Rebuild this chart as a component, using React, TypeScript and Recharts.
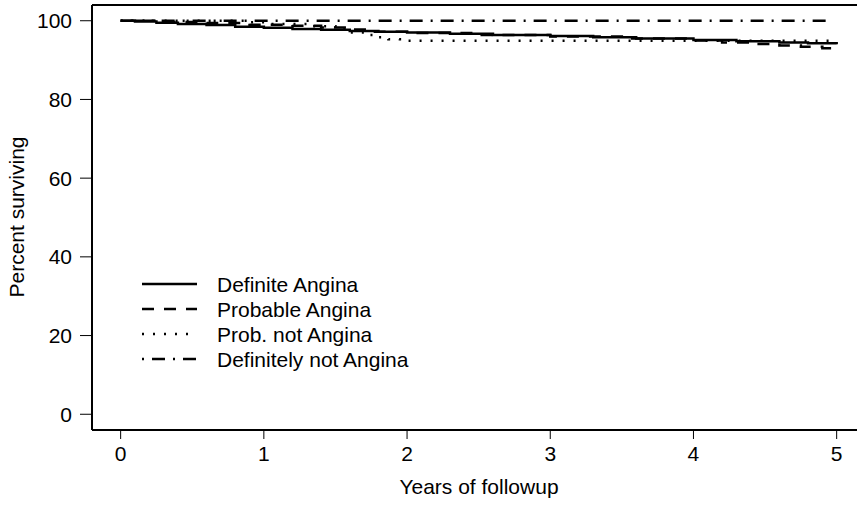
import React from 'react';
import { LineChart, Line, XAxis, YAxis, Legend, ReferenceLine } from 'recharts';

// Kaplan-Meier survival estimates by angina classification (years, percent)
const definiteT = [0, 0.1, 0.25, 0.4, 0.6, 0.8, 1.0, 1.2, 1.4, 1.6, 1.8, 2.0, 2.3, 2.6, 3.0, 3.3, 3.6, 4.0, 4.3, 4.6, 4.8, 5.0];
const definiteV = [100, 99.8, 99.5, 99.2, 98.9, 98.5, 98.2, 97.9, 97.7, 97.4, 97.2, 97.0, 96.7, 96.4, 96.1, 95.8, 95.5, 95.1, 94.8, 94.5, 94.3, 94.0];

const probableT = [0, 0.3, 0.6, 0.9, 1.2, 1.4, 1.6, 1.75, 2.0, 2.5, 3.0, 3.5, 4.0, 4.2, 4.4, 4.6, 4.75, 4.9, 5.0];
const probableV = [100, 99.7, 99.4, 99.0, 98.7, 98.3, 97.8, 97.2, 96.9, 96.4, 96.0, 95.5, 95.0, 94.5, 94.1, 93.7, 93.4, 93.0, 92.6];

const probNotT = [0, 0.9, 1.05, 1.3, 1.5, 1.6, 1.7, 1.8, 1.87, 1.95, 5.0];
const probNotV = [100, 99.6, 99.2, 98.6, 97.9, 97.0, 96.4, 95.8, 95.3, 94.9, 94.9];

const defNotT = [0, 4.95];
const defNotV = [100, 100];

const xTicks = [0, 1, 2, 3, 4, 5];
const yTicks = [0, 20, 40, 60, 80, 100];

const toPoints = (t: number[], v: number[]) => t.map((x, i) => ({ t: x, v: v[i] }));

const series = [
  { name: 'Definite Angina', data: toPoints(definiteT, definiteV), dash: undefined as string | undefined },
  { name: 'Probable Angina', data: toPoints(probableT, probableV), dash: '12 10' },
  { name: 'Prob. not Angina', data: toPoints(probNotT, probNotV), dash: '2 9' },
  { name: 'Definitely not Angina', data: toPoints(defNotT, defNotV), dash: '2 8 13 8' },
];

const FONT = "'Liberation Sans', Arial, Helvetica, sans-serif";
const FS = 21;

const XTick = (props: any) => {
  const { x, y, payload } = props;
  return (
    <text x={x} y={y} textAnchor="middle" dominantBaseline="hanging" fontFamily={FONT} fontSize={FS} fill="#000">
      {payload.value}
    </text>
  );
};

const YTick = (props: any) => {
  const { x, y, payload } = props;
  return (
    <text x={x} y={y} textAnchor="end" dominantBaseline="central" fontFamily={FONT} fontSize={FS} fill="#000">
      {payload.value}
    </text>
  );
};

const xTitle = () => (
  <text x={479} y={486} textAnchor="middle" dominantBaseline="central" fontFamily={FONT} fontSize={FS} fill="#000">
    Years of followup
  </text>
);

const yTitle = () => (
  <text
    transform="translate(16, 217) rotate(-90)"
    textAnchor="middle"
    dominantBaseline="central"
    fontFamily={FONT}
    fontSize={FS}
    fill="#000"
  >
    Percent surviving
  </text>
);

const renderLegend = () => (
  <svg width={320} height={110} style={{ display: 'block' }}>
    {series.map((s, i) => {
      const cy = 14 + i * 25;
      return (
        <g key={s.name}>
          <line x1={12} x2={67} y1={cy} y2={cy} stroke="#000" strokeWidth={2.5} strokeDasharray={s.dash} />
          <text x={87} y={cy} dominantBaseline="central" fontFamily={FONT} fontSize={FS} fill="#000">
            {s.name}
          </text>
        </g>
      );
    })}
  </svg>
);

export default function App() {
  return (
    <div style={{ position: 'absolute', left: 0, top: 0, background: '#fff' }}>
      <LineChart width={857} height={511} margin={{ top: 5, right: 0, bottom: 0, left: 0 }}>
        <XAxis
          type="number"
          dataKey="t"
          domain={[-0.2, 5.142]}
          allowDataOverflow
          ticks={xTicks}
          tick={<XTick />}
          tickSize={9}
          tickMargin={7}
          tickLine={{ stroke: '#000', strokeWidth: 1 }}
          axisLine={{ stroke: '#000', strokeWidth: 2 }}
          height={81}
          label={{ content: xTitle }}
        />
        <YAxis
          type="number"
          dataKey="v"
          domain={[-4, 104]}
          allowDataOverflow
          ticks={yTicks}
          tick={<YTick />}
          tickSize={12}
          tickMargin={8}
          tickLine={{ stroke: '#000', strokeWidth: 1 }}
          axisLine={{ stroke: '#000', strokeWidth: 2 }}
          width={92}
          label={{ content: yTitle }}
        />
        <ReferenceLine y={104} stroke="#000" strokeWidth={2} />
        {series.map((s) => (
          <Line
            key={s.name}
            data={s.data}
            dataKey="v"
            name={s.name}
            type="stepAfter"
            stroke="#000"
            strokeWidth={2.5}
            strokeDasharray={s.dash}
            dot={false}
            activeDot={false}
            isAnimationActive={false}
          />
        ))}
        <Legend
          layout="vertical"
          align="center"
          verticalAlign="middle"
          content={renderLegend}
          wrapperStyle={{ position: 'absolute', left: 130, top: 270, width: 320, height: 110 }}
        />
      </LineChart>
    </div>
  );
}
